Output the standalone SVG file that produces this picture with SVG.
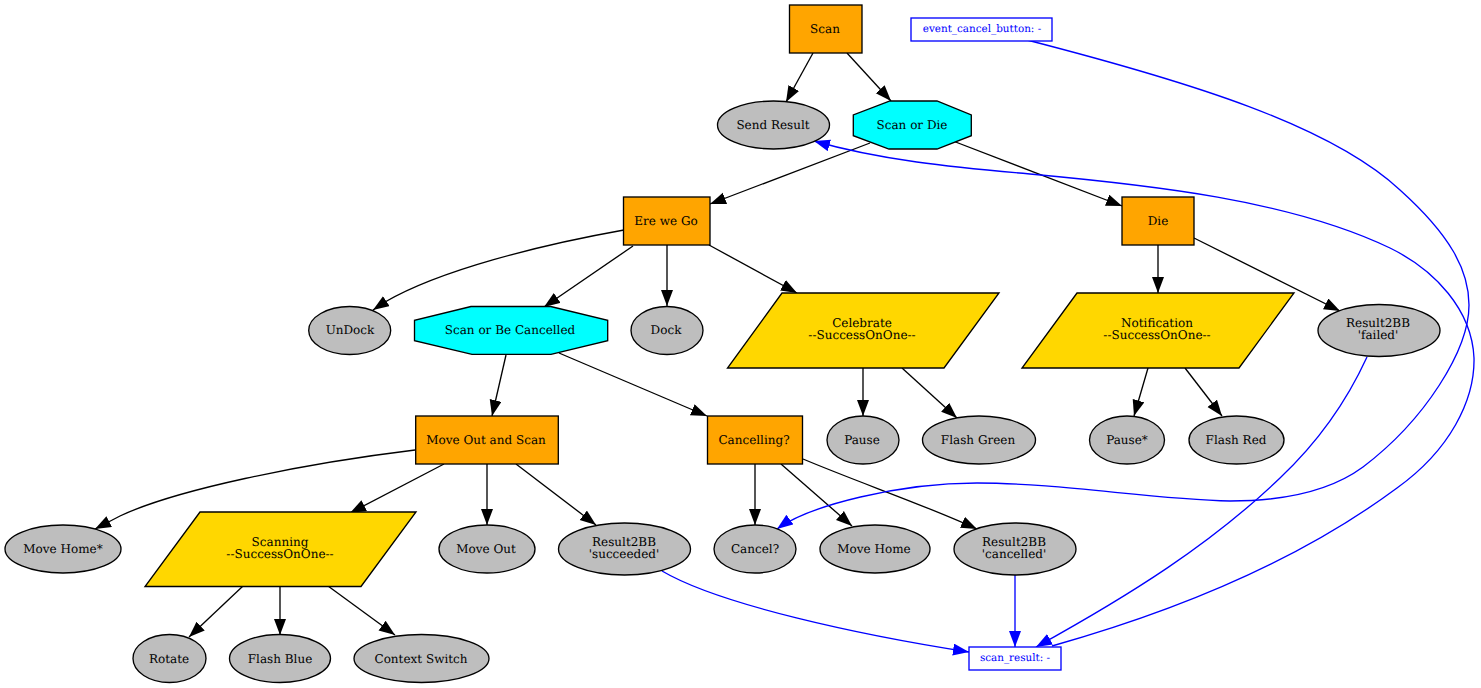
<svg xmlns="http://www.w3.org/2000/svg" width="1481" height="688" viewBox="0 0 1481 688">
<style>
text{font-family:"DejaVu Serif",serif;font-size:12px;text-anchor:middle;fill:#000;text-rendering:geometricPrecision}
.n{stroke:#000;stroke-width:1.33}
.o{fill:#ffa500}.c{fill:#0ff}.g{fill:#bebebe}.y{fill:#ffd700}
.b{fill:#fff;stroke:#00f;stroke-width:1.33}
text.t{fill:#00f;font-size:10.4px}
#edges path{fill:none;stroke-width:1.33}
.k{stroke:#000;marker-end:url(#ak)}
.u{stroke:#00f;marker-end:url(#au)}
</style>
<defs>
<marker id="ak" markerUnits="userSpaceOnUse" markerWidth="17" markerHeight="13" refX="16" refY="6" orient="auto"><path d="M0,0L16,6L0,12z" fill="#000"/></marker>
<marker id="au" markerUnits="userSpaceOnUse" markerWidth="17" markerHeight="13" refX="16" refY="6" orient="auto"><path d="M0,0L16,6L0,12z" fill="#00f"/></marker>
</defs>
<rect width="1481" height="688" fill="#fff"/>
<g id="edges">
<path class="k" d="M813,53L786,102"/>
<path class="k" d="M847,53L891,101"/>
<path class="k" d="M870,143L710,204"/>
<path class="k" d="M953,141L1122,206"/>
<path class="k" d="M624,230C540,245 440,270 385,302L373,310"/>
<path class="k" d="M633,246L544,307"/>
<path class="k" d="M667,245L667,306"/>
<path class="k" d="M709,245L797,293"/>
<path class="k" d="M1158,245L1158,293"/>
<path class="k" d="M1194,238L1340,311"/>
<path class="k" d="M506,355L492,416"/>
<path class="k" d="M559,353L707,416"/>
<path class="k" d="M863,368L863,416"/>
<path class="k" d="M902,368L957,418"/>
<path class="k" d="M1148,368L1134,416"/>
<path class="k" d="M1185,368L1222,416"/>
<path class="k" d="M415,450C300,464 175,490 120,516L95,529"/>
<path class="k" d="M444,464L350,513"/>
<path class="k" d="M487,464L487,525"/>
<path class="k" d="M516,464L596,525"/>
<path class="k" d="M755,464L755,525"/>
<path class="k" d="M781,464L852,526"/>
<path class="k" d="M803,459C860,483 925,505 977,529"/>
<path class="k" d="M243,586L189,637"/>
<path class="k" d="M280,586L280,635"/>
<path class="k" d="M328,586L395,635"/>
<path class="u" d="M1027,40C1190,82 1330,125 1400,190C1450,235 1469,270 1469,305C1469,350 1425,420 1363,467C1325,495 1275,501 1230,501C1150,499 1060,483 977,483C900,483 810,505 777,529"/>
<path class="u" d="M1052,646C1180,610 1300,560 1397,488C1450,450 1475,400 1474,358C1472,310 1435,270 1390,248C1290,200 1150,185 1030,174C950,167 880,160 814,141"/>
<path class="u" d="M1367,357C1345,405 1315,445 1280,478C1210,545 1130,595 1036,647"/>
<path class="u" d="M662,571C720,605 860,635 969,652"/>
<path class="u" d="M1015,575L1015,647"/>
</g>
<g id="scan"><rect class="n o" x="789.5" y="5" width="72.5" height="48"/><text x="825" y="33">Scan</text></g>
<g id="event_cancel_button"><rect class="b" x="911" y="18" width="141" height="23"/><text class="t" x="982" y="32">event_cancel_button: -</text></g>
<g id="send_result"><ellipse class="n g" cx="773.5" cy="125" rx="56" ry="24"/><text x="773" y="128.5">Send Result</text></g>
<g id="scan_or_die"><polygon class="n c" points="890,101 937,101 971.3,115 971.3,135.7 937,149 889,149 853.3,135.7 853.3,115"/><text x="912" y="128.5">Scan or Die</text></g>
<g id="ere_we_go"><rect class="n o" x="623.5" y="197" width="86.5" height="48"/><text x="666" y="224.5">Ere we Go</text></g>
<g id="die"><rect class="n o" x="1122" y="197" width="72" height="48"/><text x="1158" y="224.5">Die</text></g>
<g id="undock"><ellipse class="n g" cx="349.7" cy="330.5" rx="41" ry="24"/><text x="350" y="334">UnDock</text></g>
<g id="scan_or_be_cancelled"><polygon class="n c" points="471,306.5 550.7,306.5 607.7,320.3 607.7,340.7 551,354.3 472,354.3 414.5,340.7 414.5,320.3"/><text x="510" y="334">Scan or Be Cancelled</text></g>
<g id="dock"><ellipse class="n g" cx="667" cy="330.5" rx="36" ry="24"/><text x="666" y="334">Dock</text></g>
<g id="celebrate"><polygon class="n y" points="782,293 999,293 944,368 727.5,368"/><text x="862" y="327">Celebrate</text><text x="862" y="339">--SuccessOnOne--</text></g>
<g id="notification"><polygon class="n y" points="1077,293 1294,293 1239,368 1022,368"/><text x="1157" y="327">Notification</text><text x="1157" y="339">--SuccessOnOne--</text></g>
<g id="result_failed"><ellipse class="n g" cx="1379" cy="330.5" rx="61" ry="26"/><text x="1378" y="327">Result2BB</text><text x="1378" y="339">'failed'</text></g>
<g id="move_out_and_scan"><rect class="n o" x="415.7" y="416" width="142.6" height="48"/><text x="486" y="443.5">Move Out and Scan</text></g>
<g id="cancelling"><rect class="n o" x="707.5" y="416" width="95" height="48"/><text x="754" y="443.5">Cancelling?</text></g>
<g id="pause"><ellipse class="n g" cx="863" cy="440" rx="36" ry="24"/><text x="862" y="443.5">Pause</text></g>
<g id="flash_green"><ellipse class="n g" cx="979" cy="440" rx="56.5" ry="24"/><text x="978" y="443.5">Flash Green</text></g>
<g id="pause_star"><ellipse class="n g" cx="1127" cy="440" rx="37.5" ry="24"/><text x="1127" y="443.5">Pause*</text></g>
<g id="flash_red"><ellipse class="n g" cx="1236.5" cy="440" rx="47.5" ry="24"/><text x="1236" y="443.5">Flash Red</text></g>
<g id="move_home_star"><ellipse class="n g" cx="63" cy="549" rx="58" ry="24"/><text x="63" y="552.5">Move Home*</text></g>
<g id="scanning"><polygon class="n y" points="200,512 416,512 361,586.5 145,586.5"/><text x="280" y="546">Scanning</text><text x="280" y="558">--SuccessOnOne--</text></g>
<g id="move_out"><ellipse class="n g" cx="487" cy="549" rx="48" ry="24"/><text x="486" y="552.5">Move Out</text></g>
<g id="result_succeeded"><ellipse class="n g" cx="624.5" cy="549" rx="66" ry="26"/><text x="624" y="546">Result2BB</text><text x="624" y="558">'succeeded'</text></g>
<g id="cancel_q"><ellipse class="n g" cx="755" cy="549" rx="41" ry="24"/><text x="755" y="552.5">Cancel?</text></g>
<g id="move_home"><ellipse class="n g" cx="875" cy="549" rx="55" ry="24"/><text x="874" y="552.5">Move Home</text></g>
<g id="result_cancelled"><ellipse class="n g" cx="1015" cy="549" rx="61" ry="26"/><text x="1014" y="546">Result2BB</text><text x="1014" y="558">'cancelled'</text></g>
<g id="rotate"><ellipse class="n g" cx="169.5" cy="658.5" rx="36.5" ry="24"/><text x="169" y="662.5">Rotate</text></g>
<g id="flash_blue"><ellipse class="n g" cx="280" cy="658.5" rx="50.5" ry="24"/><text x="280" y="662.5">Flash Blue</text></g>
<g id="context_switch"><ellipse class="n g" cx="421.5" cy="658.5" rx="67.5" ry="24"/><text x="421" y="662.5">Context Switch</text></g>
<g id="scan_result"><rect class="b" x="969" y="647" width="92" height="23"/><text class="t" x="1015" y="661">scan_result: -</text></g>
</svg>
